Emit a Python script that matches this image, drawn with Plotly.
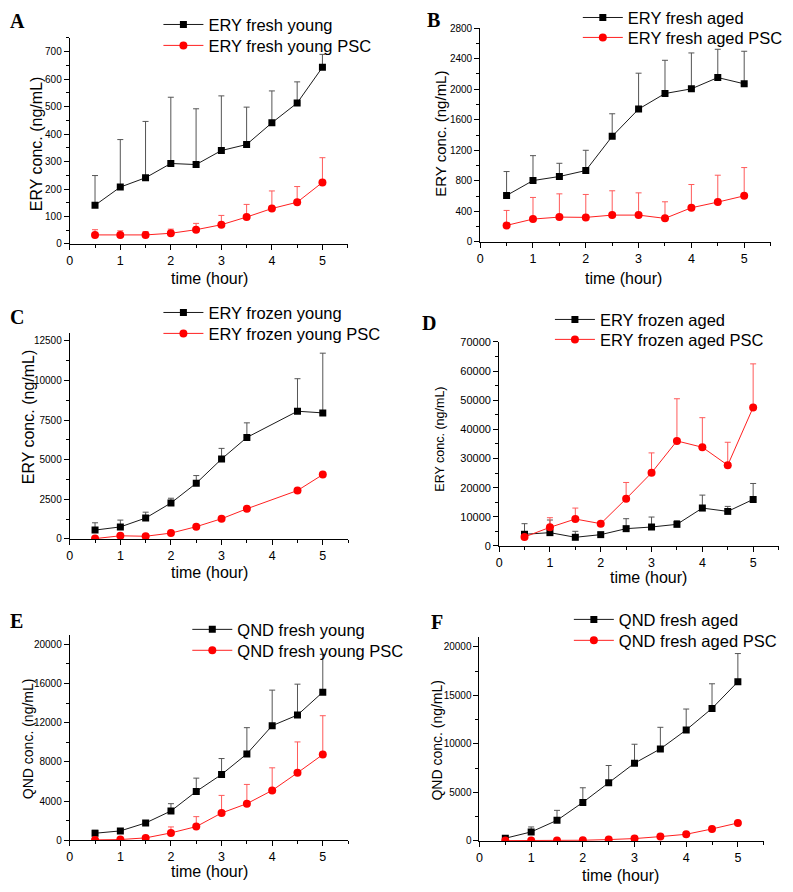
import plotly.graph_objects as go

# ---------------- data ----------------
x_full = [0.5, 1, 1.5, 2, 2.5, 3, 3.5, 4, 4.5, 5]
x_c = [0.5, 1, 1.5, 2, 2.5, 3, 3.5, 4.5, 5]

A_black = [141, 207, 241, 293, 289, 340, 362, 441, 513, 643]
A_black_err = [108, 173, 205, 241, 203, 199, 136, 116, 77, 47]
A_red = [33, 33, 33, 39, 52, 70, 98, 129, 152, 224]
A_red_err = [19, 15, 12, 15, 23, 34, 46, 64, 57, 90]

B_black = [609, 804, 857, 935, 1383, 1739, 1943, 2004, 2152, 2070]
B_black_err = [313, 326, 173, 265, 295, 470, 435, 470, 370, 426]
B_red = [217, 300, 326, 322, 352, 352, 309, 448, 522, 604]
B_red_err = [196, 283, 304, 300, 318, 291, 217, 304, 352, 370]

C_black = [560, 760, 1320, 2270, 3518, 5046, 6407, 8061, 7956]
C_black_err = [460, 430, 370, 300, 482, 670, 921, 2052, 3769]
C_red = [21, 200, 170, 370, 775, 1277, 1905, 3057, 4062]

D_black = [3990, 4560, 2964, 3876, 5928, 6498, 7410, 12997, 11857, 15961]
D_black_err = [3650, 4340, 2050, 600, 3420, 3420, 1255, 4446, 1710, 5473]
D_red = [3078, 6384, 9235, 7638, 16190, 25082, 36027, 33861, 27705, 47543]
D_red_err = [300, 3306, 3762, 300, 5586, 6841, 14475, 10147, 7867, 14935]

E_black = [712, 949, 1763, 2983, 4983, 6712, 8814, 11695, 12780, 15119]
E_black_err = [300, 200, 200, 746, 1356, 1627, 2678, 3627, 3152, 3864]
E_red = [34, 68, 237, 746, 1390, 2780, 3729, 5085, 6881, 8746]
E_red_err = [30, 50, 100, 610, 1017, 1796, 1966, 2305, 3153, 3966]

F_black = [274, 925, 2123, 3973, 5993, 8014, 9486, 11438, 13664, 16404]
F_black_err = [150, 513, 1028, 1506, 1781, 1952, 2226, 2158, 2535, 2911]
F_red = [30, 34, 34, 68, 137, 240, 445, 685, 1233, 1849]

names = {
    "A": ("ERY fresh young", "ERY fresh young PSC"),
    "B": ("ERY fresh aged", "ERY fresh aged PSC"),
    "C": ("ERY frozen young", "ERY frozen young PSC"),
    "D": ("ERY frozen aged", "ERY frozen aged PSC"),
    "E": ("QND fresh young", "QND fresh young PSC"),
    "F": ("QND fresh aged", "QND fresh aged PSC"),
}
y_titles = {"A": "ERY conc. (ng/mL)", "B": "ERY conc. (ng/mL)", "C": "ERY conc. (ng/mL)",
            "D": "ERY conc. (ng/mL)", "E": "QND conc. (ng/mL)", "F": "QND conc. (ng/mL)"}
x_title = "time (hour)"

# ---------------- layout geometry (pixels, measured on the reference) ----------------
W, H = 793, 892
def px(x):
    return x / W
def py(y):
    # compensate the slight vertical offset/scale seen in the rendered page
    yp = (y - 5.2) / 0.9866
    return 1 - yp / H

panels = {
    "A": dict(x=(67, 346), y=(241, 34.2), yr=[0, 750], dt=100),
    "B": dict(x=(479, 770.5), y=(239, 24.3), yr=[0, 2800], dt=400),
    "C": dict(x=(67, 346.4), y=(537, 330.3), yr=[0, 13000], dt=2500),
    "D": dict(x=(498, 778.5), y=(544, 339.3), yr=[0, 70000], dt=10000),
    "E": dict(x=(67, 346.4), y=(839.3, 632.9), yr=[0, 21000], dt=4000),
    "F": dict(x=(478.3, 763.6), y=(840, 635.6), yr=[0, 21000], dt=5000),
}

data = {
    "A": (x_full, A_black, A_black_err, x_full, A_red, A_red_err),
    "B": (x_full, B_black, B_black_err, x_full, B_red, B_red_err),
    "C": (x_c, C_black, C_black_err, x_c, C_red, None),
    "D": (x_full, D_black, D_black_err, x_full, D_red, D_red_err),
    "E": (x_full, E_black, E_black_err, x_full, E_red, E_red_err),
    "F": (x_full, F_black, F_black_err, x_full, F_red, None),
}

legend_pos = {  # text start x, row1 center y, row2 center y (px)
    "A": (207, 21, 42), "B": (628, 14, 34), "C": (207, 310, 331),
    "D": (600, 317, 337), "E": (236, 628, 649), "F": (619, 618, 639),
}
ytitle_pos = {"A": (33, 140, 16), "B": (439, 130, 15), "C": (25, 414, 16),
              "D": (439, 437, 12.5), "E": (25, 737, 14), "F": (436, 739, 14)}
xtitle_pos = {"A": (207, 276), "B": (623, 276), "C": (207, 571),
              "D": (648, 576), "E": (207, 871), "F": (620, 875)}
letter_pos = {"A": (15, 17), "B": (432, 16), "C": (14, 314),
              "D": (428, 320), "E": (14, 619), "F": (436, 620)}
ytick_size = {"A": 10, "B": 10, "C": 10, "D": 11, "E": 10, "F": 10}
xtick_size = {"A": 12.5, "B": 12.5, "C": 12.5, "D": 12.5, "E": 12.5, "F": 12.5}

FONT = "Liberation Sans, Arial, sans-serif"
fig = go.Figure()
layout = dict(width=W, height=H, margin=dict(l=0, r=0, t=0, b=0), autosize=False,
              paper_bgcolor="white", plot_bgcolor="white",
              font=dict(family=FONT, color="black"), showlegend=True)
annotations = []

def legend_cfg(x_text, y_center):
    return dict(x=px(x_text - 51), y=py(y_center), xanchor="left", yanchor="middle",
                xref="paper", yref="paper", bgcolor="rgba(0,0,0,0)", borderwidth=0,
                font=dict(family=FONT, size=16.5, color="black"),
                itemwidth=40, tracegroupgap=0)

leg_counter = 0
for i, key in enumerate(["A", "B", "C", "D", "E", "F"]):
    n = i + 1
    xa = "x" if n == 1 else f"x{n}"
    ya = "y" if n == 1 else f"y{n}"
    p = panels[key]
    xb, yb, eb, xr, yrd, er = data[key]
    lx, ly1, ly2 = legend_pos[key]

    leg_counter += 1
    lg1 = "legend" if leg_counter == 1 else f"legend{leg_counter}"
    layout[lg1] = legend_cfg(lx, ly1)
    leg_counter += 1
    lg2 = f"legend{leg_counter}"
    layout[lg2] = legend_cfg(lx, ly2)

    fig.add_trace(go.Scatter(
        x=xb, y=yb, name=names[key][0], mode="lines+markers",
        xaxis=xa, yaxis=ya, legend=lg1,
        line=dict(color="#1a1a1a", width=1),
        marker=dict(symbol="square", size=7, color="black"),
        error_y=dict(type="data", symmetric=False, array=eb, arrayminus=[0] * len(eb),
                     color="#555555", thickness=1, width=3),
    ))
    red_kw = dict(x=xr, y=yrd, name=names[key][1], mode="lines+markers",
                  xaxis=xa, yaxis=ya, legend=lg2,
                  line=dict(color="#ff2020", width=1),
                  marker=dict(symbol="circle", size=8, color="#ff0000"))
    if er is not None:
        red_kw["error_y"] = dict(type="data", symmetric=False, array=er, arrayminus=[0] * len(er),
                                 color="#ff5a5a", thickness=1, width=3)
    fig.add_trace(go.Scatter(**red_kw))

    axname_x = "xaxis" if n == 1 else f"xaxis{n}"
    axname_y = "yaxis" if n == 1 else f"yaxis{n}"
    layout[axname_x] = dict(
        domain=[px(p["x"][0]), px(p["x"][1])], anchor=ya, range=[0, 5.5],
        tickmode="linear", tick0=0, dtick=1, ticks="outside", ticklen=5, tickwidth=1,
        minor=dict(ticks="outside", ticklen=3, dtick=0.5, tick0=0, tickwidth=1, tickcolor="black"),
        showline=True, linecolor="black", linewidth=1, showgrid=False, zeroline=False,
        tickfont=dict(family=FONT, size=xtick_size[key], color="black"), tickcolor="black",
        fixedrange=True)
    layout[axname_y] = dict(
        domain=[py(p["y"][0]), py(p["y"][1])], anchor=xa, range=p["yr"],
        tickmode="linear", tick0=0, dtick=p["dt"], ticks="outside", ticklen=5, tickwidth=1,
        minor=dict(ticks="outside", ticklen=3, dtick=p["dt"] / 2, tick0=0, tickwidth=1, tickcolor="black"),
        showline=True, linecolor="black", linewidth=1, showgrid=False, zeroline=False,
        tickfont=dict(family=FONT, size=ytick_size[key], color="black"), tickcolor="black",
        tickformat="d", fixedrange=True)
    tx, ty, ts = ytitle_pos[key]
    annotations.append(dict(text=y_titles[key], x=px(tx), y=py(ty), xref="paper", yref="paper",
                            textangle=-90, showarrow=False, xanchor="center", yanchor="middle",
                            font=dict(family=FONT, size=ts, color="black")))
    tx, ty = xtitle_pos[key]
    annotations.append(dict(text=x_title, x=px(tx), y=py(ty), xref="paper", yref="paper",
                            showarrow=False, xanchor="center", yanchor="middle",
                            font=dict(family=FONT, size=16, color="black")))
    tx, ty = letter_pos[key]
    annotations.append(dict(text=f"<b>{key}</b>", x=px(tx), y=py(ty), xref="paper", yref="paper",
                            showarrow=False, xanchor="center", yanchor="middle",
                            font=dict(family="Liberation Serif, Times New Roman, serif", size=20, color="black")))

layout["annotations"] = annotations
fig.update_layout(**layout)
fig.write_html("out.html", config={"displayModeBar": False},
               post_script="document.body.style.margin='0';document.body.style.padding='0';")
